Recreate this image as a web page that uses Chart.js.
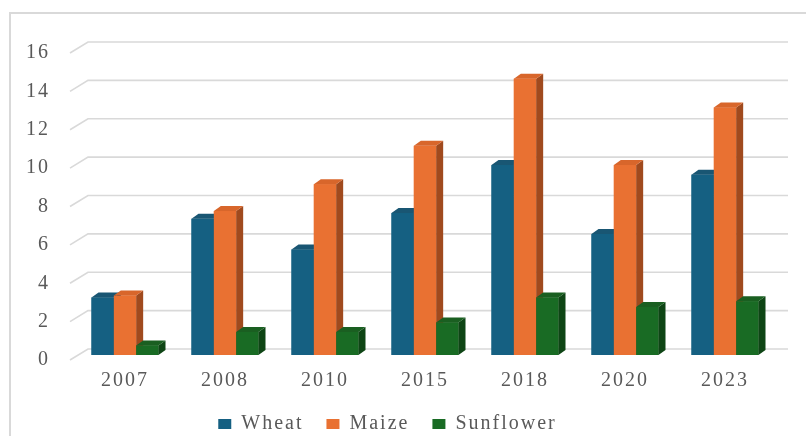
<!DOCTYPE html>
<html>
<head>
<meta charset="utf-8">
<script src="https://cdn.jsdelivr.net/npm/chart.js@4/dist/chart.umd.min.js"></script>
<style>
    html, body { margin: 0; padding: 0; background: #ffffff; }
    #chart { display: block; }
</style>
</head>
<body>
<canvas id="chart" width="806" height="436"></canvas>
<script>
// ============================================
// DATA
// ============================================

const YEARS = ['2007', '2008', '2010', '2015', '2018', '2020', '2023'];
const WHEAT = [3.0, 7.1, 5.5, 7.4, 9.9, 6.3, 9.4];
const MAIZE = [3.1, 7.5, 8.9, 10.9, 14.4, 9.9, 12.9];
const SUNFLOWER = [0.5, 1.2, 1.2, 1.7, 3.0, 2.5, 2.8];
const Y_TICKS = [0, 2, 4, 6, 8, 10, 12, 14, 16];

// front / right side / top face colours
const FACES = [
    { front: '#156082', side: '#0D3F57', top: '#195673' },
    { front: '#E97132', side: '#A04A1E', top: '#D8662B' },
    { front: '#196B24', side: '#0E4515', top: '#1A5F21' }
];

const TEXT_COLOR = '#595959';
const GRID_COLOR = '#d9d9d9';
const FONT_FAMILY = '"Liberation Serif", "Times New Roman", serif';

// ============================================
// 3D LOOK
// ============================================

const DEPTH_X = 7;
const DEPTH_Y = 5;

const depthPlugin = {
    id: 'depth3d',

    beforeUpdate(chart) {
        chart.ctx.letterSpacing = '2px';
    },

    beforeDraw(chart) {
        const ctx = chart.ctx;
        ctx.letterSpacing = '2px';

        // outer frame of the chart object
        ctx.save();
        ctx.strokeStyle = GRID_COLOR;
        ctx.lineWidth = 2;
        ctx.strokeRect(10, 13, 900, 500);
        ctx.restore();
    },

    beforeDatasetsDraw(chart) {
        const ctx = chart.ctx;
        const yScale = chart.scales.y;
        const area = chart.chartArea;

        // back wall grid lines, with the slanted side wall edge
        ctx.save();
        ctx.strokeStyle = GRID_COLOR;
        ctx.lineWidth = 1.6;

        Y_TICKS.forEach((value) => {
            const p = yScale.getPixelForValue(value);
            ctx.beginPath();
            ctx.moveTo(area.left - 5, p + 5);
            ctx.lineTo(area.left + 13, p - 6);
            ctx.lineTo(area.right + 13, p - 6);
            ctx.stroke();
        });

        ctx.restore();
    },

    afterDatasetsDraw(chart) {
        const ctx = chart.ctx;
        ctx.save();

        for (let i = 0; i < YEARS.length; i++) {
            for (let d = 0; d < chart.data.datasets.length; d++) {
                const bar = chart.getDatasetMeta(d).data[i];
                const { x, y, base, width } = bar.getProps(['x', 'y', 'base', 'width'], true);
                const left = x - width / 2;
                const right = x + width / 2;
                const faces = FACES[d];

                // front (redrawn so it covers the previous bar's side)
                ctx.fillStyle = faces.front;
                ctx.fillRect(left, y, width, base - y);

                // right side
                ctx.fillStyle = faces.side;
                ctx.beginPath();
                ctx.moveTo(right, y);
                ctx.lineTo(right + DEPTH_X, y - DEPTH_Y);
                ctx.lineTo(right + DEPTH_X, base - DEPTH_Y);
                ctx.lineTo(right, base);
                ctx.closePath();
                ctx.fill();

                // top
                ctx.fillStyle = faces.top;
                ctx.beginPath();
                ctx.moveTo(left, y);
                ctx.lineTo(left + DEPTH_X, y - DEPTH_Y);
                ctx.lineTo(right + DEPTH_X, y - DEPTH_Y);
                ctx.lineTo(right, y);
                ctx.closePath();
                ctx.fill();
            }
        }

        ctx.restore();
    }
};

// ============================================
// CHART
// ============================================

const canvas = document.getElementById('chart');
const ctx = canvas.getContext('2d');

new Chart(ctx, {
    type: 'bar',

    data: {
        labels: YEARS,

        datasets: [
            { label: 'Wheat', data: WHEAT, backgroundColor: FACES[0].front },
            { label: 'Maize', data: MAIZE, backgroundColor: FACES[1].front },
            { label: 'Sunflower', data: SUNFLOWER, backgroundColor: FACES[2].front }
        ].map((ds) => ({
            ...ds,
            borderWidth: 0,
            barPercentage: 1,
            categoryPercentage: 0.67
        }))
    },

    options: {
        responsive: false,
        animation: false,
        devicePixelRatio: 1,

        layout: {
            padding: { top: 48, left: 0, right: 31, bottom: 0 }
        },

        plugins: {
            tooltip: { enabled: false },

            legend: {
                position: 'bottom',
                maxHeight: 45,

                labels: {
                    color: TEXT_COLOR,
                    boxWidth: 13,
                    boxHeight: 10,
                    padding: 23,
                    font: { family: FONT_FAMILY, size: 20 }
                }
            }
        },

        scales: {
            x: {
                grid: { display: false, drawTicks: false },
                border: { display: false },

                ticks: {
                    color: TEXT_COLOR,
                    padding: 14,
                    maxRotation: 0,
                    font: { family: FONT_FAMILY, size: 20 }
                },

                afterFit(scale) {
                    scale.height = 36;
                }
            },

            y: {
                min: 0,
                max: 16,
                grid: { display: false, drawTicks: false },
                border: { display: false },

                ticks: {
                    stepSize: 2,
                    color: TEXT_COLOR,
                    padding: 25,
                    labelOffset: 5,
                    font: { family: FONT_FAMILY, size: 20 }
                },

                afterFit(scale) {
                    scale.width = 75;
                }
            }
        }
    },

    plugins: [depthPlugin]
});
</script>
</body>
</html>
